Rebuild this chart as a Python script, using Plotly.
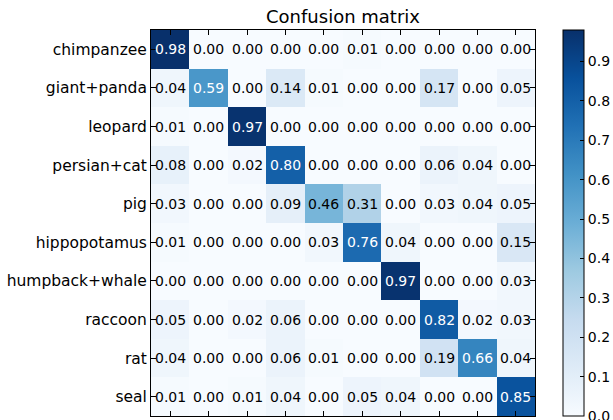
import plotly.graph_objects as go

classes = ["chimpanzee", "giant+panda", "leopard", "persian+cat", "pig",
           "hippopotamus", "humpback+whale", "raccoon", "rat", "seal"]

row_chimpanzee = [0.98, 0.00, 0.00, 0.00, 0.00, 0.01, 0.00, 0.00, 0.00, 0.00]
row_giant_panda = [0.04, 0.59, 0.00, 0.14, 0.01, 0.00, 0.00, 0.17, 0.00, 0.05]
row_leopard = [0.01, 0.00, 0.97, 0.00, 0.00, 0.00, 0.00, 0.00, 0.00, 0.00]
row_persian_cat = [0.08, 0.00, 0.02, 0.80, 0.00, 0.00, 0.00, 0.06, 0.04, 0.00]
row_pig = [0.03, 0.00, 0.00, 0.09, 0.46, 0.31, 0.00, 0.03, 0.04, 0.05]
row_hippopotamus = [0.01, 0.00, 0.00, 0.00, 0.03, 0.76, 0.04, 0.00, 0.00, 0.15]
row_humpback_whale = [0.00, 0.00, 0.00, 0.00, 0.00, 0.00, 0.97, 0.00, 0.00, 0.03]
row_raccoon = [0.05, 0.00, 0.02, 0.06, 0.00, 0.00, 0.00, 0.82, 0.02, 0.03]
row_rat = [0.04, 0.00, 0.00, 0.06, 0.01, 0.00, 0.00, 0.19, 0.66, 0.04]
row_seal = [0.01, 0.00, 0.01, 0.04, 0.00, 0.05, 0.04, 0.00, 0.00, 0.85]

colorbar_ticks = [0.0, 0.1, 0.2, 0.3, 0.4, 0.5, 0.6, 0.7, 0.8, 0.9]

matrix = [row_chimpanzee, row_giant_panda, row_leopard, row_persian_cat, row_pig,
          row_hippopotamus, row_humpback_whale, row_raccoon, row_rat, row_seal]

blues = [[0.0, "#f7fbff"], [0.125, "#deebf7"], [0.25, "#c6dbef"], [0.375, "#9ecae1"],
         [0.5, "#6baed6"], [0.625, "#4292c6"], [0.75, "#2171b5"], [0.875, "#08519c"],
         [1.0, "#08306b"]]

zmax = max(max(r) for r in matrix)
thresh = zmax / 2.0
FONT = "DejaVu Sans"

fig = go.Figure()
fig.add_trace(go.Heatmap(
    z=matrix, x=classes, y=classes, colorscale=blues, zmin=0, zmax=zmax,
    xgap=0, ygap=0, hoverinfo="skip",
    colorbar=dict(
        x=1.073, xanchor="left", xpad=0, y=0.5, yanchor="middle", ypad=0,
        len=1.0, lenmode="fraction", thickness=21,
        outlinecolor="black", outlinewidth=1,
        tickvals=colorbar_ticks, ticktext=[f"{v:.1f}" for v in colorbar_ticks],
        ticks="inside", ticklen=4, tickcolor="black",
        ticklabeloverflow="allow",
        tickfont=dict(family=FONT, size=14, color="black"),
    ),
))

annotations = []
for i, row in enumerate(matrix):
    for j, v in enumerate(row):
        annotations.append(dict(
            x=classes[j], y=classes[i], text=f"{v:.2f}", showarrow=False,
            font=dict(family=FONT, size=14, color="white" if v > thresh else "black"),
        ))

fig.update_layout(
    width=613, height=420,
    margin=dict(l=151, r=78, t=30, b=4, autoexpand=False),
    paper_bgcolor="white", plot_bgcolor="white",
    title=dict(text="Confusion matrix", x=(151 + 535) / 2 / 613, xanchor="center",
               y=1 - 17 / 420, yanchor="middle",
               font=dict(family=FONT, size=18, color="black")),
    annotations=annotations,
    xaxis=dict(showticklabels=False, ticks="inside", ticklen=5, tickcolor="black",
               showline=True, linecolor="black", linewidth=1, mirror="ticks",
               showgrid=False, zeroline=False),
    yaxis=dict(autorange="reversed", ticks="inside", ticklen=5, tickcolor="black",
               showline=True, linecolor="black", linewidth=1, mirror="ticks",
               showgrid=False, zeroline=False,
               tickfont=dict(family=FONT, size=15.5, color="black")),
)

fig.write_html("out.html", config={"displayModeBar": False},
               post_script="document.body.style.margin='0';document.body.style.overflow='hidden';")
